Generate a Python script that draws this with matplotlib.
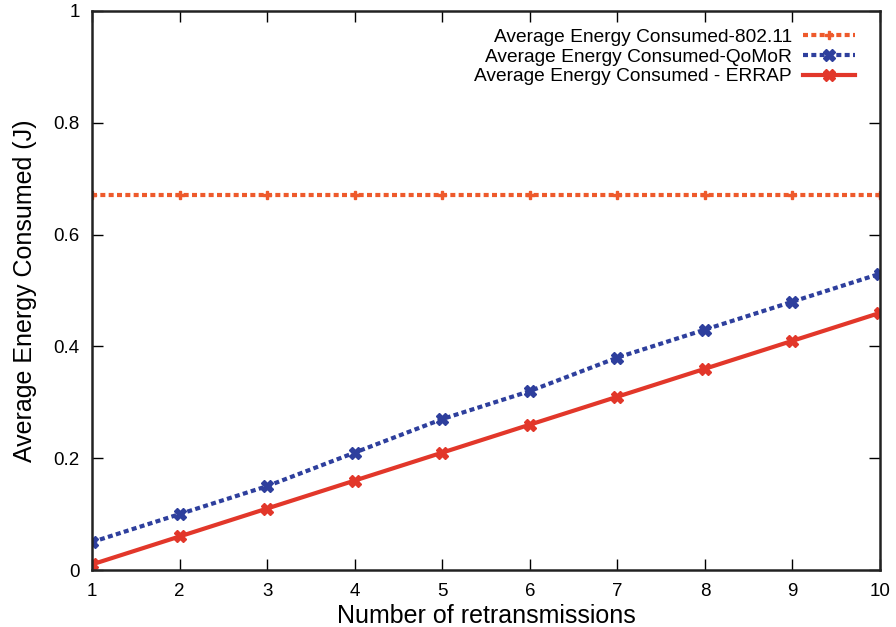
import matplotlib
matplotlib.use("Agg")
import matplotlib.pyplot as plt
from matplotlib.ticker import FuncFormatter

retransmissions = [1, 2, 3, 4, 5, 6, 7, 8, 9, 10]
energy_80211 = [0.67, 0.67, 0.67, 0.67, 0.67, 0.67, 0.67, 0.67, 0.67, 0.67]
energy_qomor = [0.05, 0.10, 0.15, 0.21, 0.27, 0.32, 0.38, 0.43, 0.48, 0.53]
energy_errap = [0.01, 0.06, 0.11, 0.16, 0.21, 0.26, 0.31, 0.36, 0.41, 0.46]

plt.rcParams['font.family'] = ['Liberation Sans', 'DejaVu Sans']

fig = plt.figure(figsize=(8.96, 6.27), dpi=100)
ax = fig.add_axes([0.1027, 0.0909, 0.8795, 0.8916])

ax.plot(retransmissions, energy_80211, color='#ee5a2c', linewidth=3,
        linestyle=(0, (1.2, 0.8)), marker='P', markersize=6,
        label='Average Energy Consumed-802.11')
ax.plot(retransmissions, energy_qomor, color='#2e3f9d', linewidth=3,
        linestyle=(0, (1.2, 0.8)), marker='X', markersize=9,
        label='Average Energy Consumed-QoMoR')
ax.plot(retransmissions, energy_errap, color='#e2372a', linewidth=3,
        marker='X', markersize=9,
        label='Average Energy Consumed - ERRAP')

ax.set_xlim(1, 10)
ax.set_ylim(0, 1)
ax.set_xticks(retransmissions)
ax.set_yticks([0, 0.2, 0.4, 0.6, 0.8, 1.0])
ax.yaxis.set_major_formatter(FuncFormatter(lambda v, p: f"{v:g}"))
ax.tick_params(direction='in', length=8, width=1, top=True, right=True,
               labelsize=13.5, pad=9)
for s in ax.spines.values():
    s.set_linewidth(1.8)
    s.set_color('#222222')

ax.set_xlabel('Number of retransmissions', fontsize=18, labelpad=3)
ax.set_ylabel('Average Energy Consumed (J)', fontsize=18, labelpad=12)

leg = ax.legend(loc='upper right', bbox_to_anchor=(1.0, 1.013),
                markerfirst=False, frameon=False,
                fontsize=13.8, handlelength=2.7, labelspacing=0.12,
                borderaxespad=0.9, handletextpad=0.6)
for t in leg.get_texts():
    t.set_ha('right')
leg._legend_box.align = 'right'

fig.savefig('out.png', dpi=100)
